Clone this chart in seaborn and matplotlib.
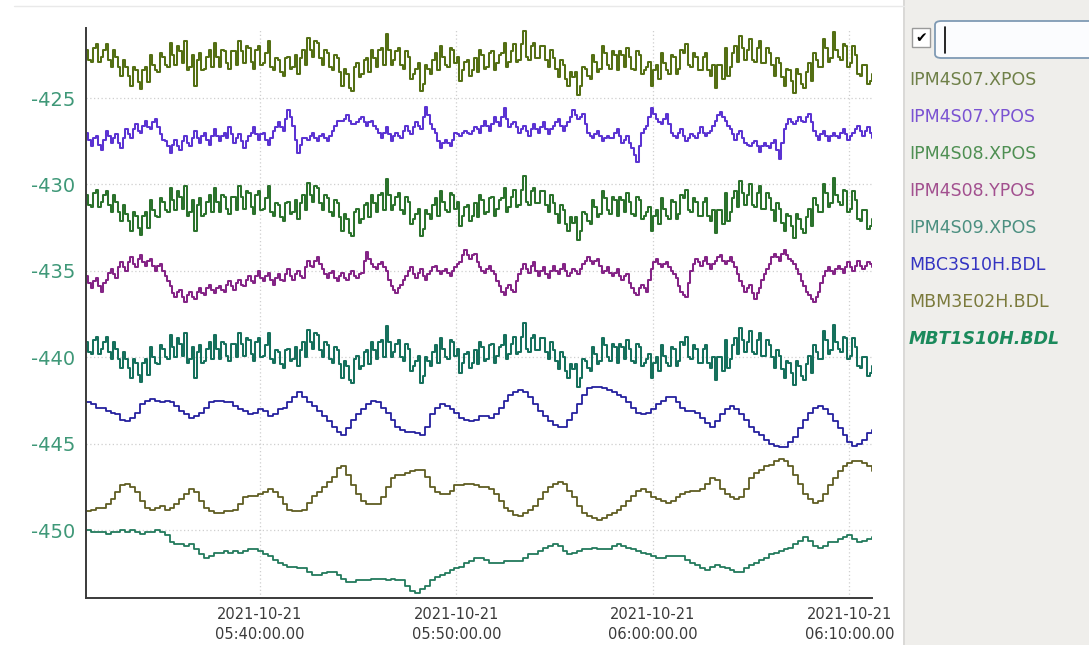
import numpy as np
import pandas as pd
import matplotlib
matplotlib.use("Agg")
import matplotlib.pyplot as plt
import matplotlib.dates as mdates
from matplotlib.patches import Rectangle, FancyBboxPatch
from matplotlib.lines import Line2D
import seaborn as sns

# ---------------- data ----------------
start_time = "2021-10-21 05:31:09"
sample_period = "15s"
n_samples = 161
half_offset = "7.5s"   # second set of samples for the fast (noisy) IPM channels

signals = ["IPM4S07.XPOS", "IPM4S07.YPOS", "IPM4S08.XPOS", "IPM4S08.YPOS",
           "IPM4S09.XPOS", "MBC3S10H.BDL", "MBM3E02H.BDL", "MBT1S10H.BDL"]
fast_signals = signals[:5]

ipm4s07_xpos = [
    -422.2, -422.9, -421.9, -422.6, -421.9, -423.2, -422.6, -423.7, -423.2, -424.3,
    -423.4, -424.5, -423.2, -422.5, -423.4, -422.4, -423.1, -421.8, -423.1, -422.3,
    -421.7, -423.2, -424.3, -422.4, -423.3, -422.2, -421.8, -423.2, -422.3, -423.3,
    -422.3, -421.7, -423.0, -422.1, -423.3, -422.0, -423.0, -421.7, -423.4, -422.8,
    -423.7, -422.6, -423.2, -423.6, -422.2, -421.5, -422.6, -421.8, -423.1, -422.4,
    -423.4, -422.7, -424.3, -423.6, -424.6, -423.0, -423.6, -422.7, -422.2, -423.2,
    -422.1, -421.3, -423.1, -422.3, -423.1, -422.3, -423.9, -423.3, -424.6, -423.1,
    -423.6, -422.4, -422.0, -423.1, -422.1, -423.0, -424.0, -422.9, -423.7, -422.7,
    -422.2, -423.3, -422.4, -423.4, -422.5, -421.8, -422.9, -421.9, -422.8, -421.1,
    -422.8, -421.8, -422.7, -422.0, -423.2, -422.7, -423.8, -423.1, -424.3, -423.8,
    -424.8, -423.2, -423.7, -422.5, -423.5, -422.0, -423.1, -422.3, -423.4, -422.5,
    -422.1, -423.3, -422.3, -423.6, -423.2, -424.3, -423.1, -422.4, -423.4, -422.5,
    -423.6, -422.2, -421.9, -423.2, -422.6, -423.4, -422.4, -423.7, -424.4, -423.1,
    -422.1, -423.2, -422.0, -421.4, -422.8, -421.6, -422.9, -421.7, -423.0, -422.4,
    -423.7, -423.0, -424.3, -423.4, -424.7, -423.6, -424.4, -423.0, -422.4, -423.2,
    -421.6, -422.9, -421.2, -422.6, -421.9, -423.2, -422.0, -423.6, -423.1, -424.2,
    -423.6]
ipm4s07_xpos_mid = [
    -422.8, -422.1, -422.9, -422.2, -422.8, -422.2, -423.2, -422.8, -423.7, -423.2,
    -424.1, -423.4, -424.1, -423.1, -423.5, -422.6, -423.2, -422.5, -422.0, -423.0,
    -423.4, -422.5, -422.8, -423.4, -422.6, -423.2, -422.6, -422.2, -423.0, -422.3,
    -423.1, -422.3, -422.0, -422.9, -422.2, -423.1, -422.4, -423.2, -422.7, -423.5,
    -422.7, -423.3, -422.5, -422.7, -423.1, -422.2, -421.7, -422.7, -422.2, -423.2,
    -422.5, -423.5, -423.3, -424.4, -423.2, -423.8, -422.8, -423.5, -422.7, -422.2,
    -423.1, -422.2, -422.8, -422.1, -423.3, -422.6, -423.6, -423.0, -424.2, -423.3,
    -422.8, -423.4, -422.6, -423.2, -422.2, -422.6, -423.4, -422.8, -423.4, -423.5,
    -422.5, -423.2, -422.3, -423.0, -422.4, -423.2, -422.3, -422.9, -421.9, -422.6,
    -422.0, -422.7, -422.0, -422.8, -422.2, -423.3, -422.8, -423.9, -423.5, -423.5,
    -424.3, -423.3, -423.9, -422.9, -423.3, -422.4, -423.3, -422.5, -422.3, -423.2,
    -422.6, -423.4, -422.5, -423.4, -422.9, -423.4, -423.9, -423.0, -423.6, -422.6,
    -423.3, -422.4, -423.1, -422.4, -423.4, -422.6, -423.4, -423.1, -423.1, -423.9,
    -423.7, -422.4, -422.9, -422.1, -422.2, -422.8, -422.1, -423.0, -422.1, -423.1,
    -422.7, -423.8, -423.3, -424.0, -423.3, -424.2, -423.5, -424.0, -422.8, -423.2,
    -422.1, -422.7, -422.2, -422.8, -422.0, -423.0, -422.5, -423.7, -423.1, -424.0]

ipm4s07_ypos = [
    -427.0, -427.8, -427.2, -428.0, -426.9, -427.6, -427.1, -427.9, -426.8, -427.3,
    -426.5, -427.0, -426.3, -426.8, -426.2, -427.1, -427.5, -428.2, -427.4, -428.0,
    -427.2, -427.8, -426.9, -427.6, -427.0, -427.7, -426.8, -427.5, -427.0, -426.7,
    -427.6, -427.1, -427.9, -427.2, -426.7, -427.4, -427.0, -427.7, -426.9, -426.4,
    -426.9, -425.7, -426.6, -428.2, -427.3, -427.4, -427.0, -427.5, -427.1, -427.5,
    -426.9, -426.3, -426.3, -426.0, -426.5, -426.4, -426.1, -426.6, -426.3, -426.8,
    -427.3, -426.7, -427.5, -427.0, -427.3, -426.6, -427.1, -426.4, -426.8, -425.5,
    -426.5, -427.0, -427.9, -427.4, -427.8, -427.0, -427.2, -426.9, -427.1, -426.7,
    -427.0, -426.3, -426.9, -426.1, -426.6, -425.6, -426.7, -426.4, -427.0, -426.6,
    -427.2, -426.5, -427.0, -426.4, -427.1, -426.6, -426.2, -426.9, -426.4, -425.7,
    -426.2, -425.9, -427.0, -427.3, -426.9, -427.5, -427.2, -427.3, -426.8, -427.6,
    -427.2, -427.9, -428.7, -427.0, -426.6, -425.6, -426.2, -426.5, -425.9, -427.0,
    -427.3, -426.8, -427.5, -427.1, -427.3, -426.7, -427.2, -426.9, -426.3, -425.8,
    -426.3, -426.8, -427.4, -426.9, -427.6, -427.8, -427.5, -428.1, -427.6, -427.9,
    -427.4, -428.5, -426.8, -426.2, -426.5, -426.1, -426.4, -425.9, -426.9, -427.4,
    -426.9, -427.5, -427.0, -427.3, -426.8, -427.4, -427.0, -426.6, -427.2, -426.7,
    -427.3]
ipm4s07_ypos_mid = [
    -427.4, -427.3, -427.7, -427.4, -427.2, -427.3, -427.6, -427.3, -427.1, -426.8,
    -426.9, -426.6, -426.7, -426.4, -426.7, -427.4, -427.8, -427.7, -427.8, -427.5,
    -427.6, -427.3, -427.3, -427.2, -427.4, -427.2, -427.2, -427.2, -427.3, -427.1,
    -427.3, -427.5, -427.5, -427.0, -427.1, -427.1, -427.4, -427.3, -426.7, -426.7,
    -426.2, -426.1, -427.4, -427.7, -427.3, -427.2, -427.3, -427.2, -427.3, -427.2,
    -426.6, -426.3, -426.2, -426.3, -426.5, -426.2, -426.4, -426.4, -426.6, -427.0,
    -427.0, -427.1, -427.2, -427.2, -426.9, -426.9, -426.7, -426.6, -426.1, -426.0,
    -426.8, -427.5, -427.6, -427.6, -427.4, -427.1, -427.0, -427.0, -426.9, -426.8,
    -426.6, -426.6, -426.5, -426.4, -426.1, -426.2, -426.5, -426.7, -426.8, -426.9,
    -426.8, -426.8, -426.7, -426.8, -426.8, -426.4, -426.6, -426.6, -426.1, -426.0,
    -426.1, -426.5, -427.2, -427.1, -427.2, -427.3, -427.3, -427.0, -427.2, -427.4,
    -427.6, -428.3, -427.8, -426.8, -426.1, -425.9, -426.4, -426.2, -426.5, -427.2,
    -427.0, -427.2, -427.3, -427.2, -427.0, -427.0, -427.0, -426.6, -426.0, -426.1,
    -426.6, -427.1, -427.1, -427.3, -427.7, -427.6, -427.8, -427.8, -427.8, -427.6,
    -428.0, -427.6, -426.5, -426.4, -426.3, -426.3, -426.1, -426.4, -427.2, -427.1,
    -427.2, -427.2, -427.2, -427.0, -427.1, -427.2, -426.8, -426.9, -426.9, -427.0]

ipm4s08_xpos = [
    -430.6, -431.3, -430.3, -431.0, -430.4, -431.6, -431.0, -432.1, -431.7, -432.7,
    -431.8, -432.9, -431.6, -430.9, -431.8, -430.8, -431.5, -430.2, -431.5, -430.7,
    -430.1, -431.6, -432.7, -430.8, -431.7, -430.6, -430.2, -431.6, -430.7, -431.7,
    -430.7, -430.1, -431.4, -430.5, -431.7, -430.4, -431.4, -430.1, -431.8, -431.2,
    -432.1, -431.0, -431.6, -432.0, -430.6, -429.9, -431.0, -430.2, -431.5, -430.8,
    -431.8, -431.1, -432.7, -432.0, -433.0, -431.4, -432.0, -431.1, -430.6, -431.6,
    -430.5, -429.7, -431.5, -430.7, -431.5, -430.7, -432.3, -431.7, -433.0, -431.5,
    -432.0, -430.8, -430.4, -431.5, -430.5, -431.4, -432.4, -431.3, -432.1, -431.1,
    -430.6, -431.7, -430.8, -431.8, -430.9, -430.2, -431.3, -430.3, -431.2, -429.5,
    -431.2, -430.2, -431.1, -430.4, -431.6, -431.1, -432.2, -431.5, -432.7, -432.2,
    -433.2, -431.6, -432.1, -430.9, -431.9, -430.4, -431.5, -430.7, -431.8, -430.9,
    -430.5, -431.7, -430.7, -432.0, -431.6, -432.7, -431.5, -430.8, -431.8, -430.9,
    -432.0, -430.6, -430.3, -431.6, -431.0, -431.8, -430.8, -432.1, -432.8, -431.5,
    -430.5, -431.6, -430.4, -429.8, -431.2, -430.0, -431.3, -430.1, -431.4, -430.8,
    -432.1, -431.4, -432.7, -431.8, -433.1, -432.0, -432.8, -431.4, -430.8, -431.6,
    -430.0, -431.3, -429.6, -431.0, -430.3, -431.6, -430.4, -432.0, -431.5, -432.6,
    -432.0]
ipm4s08_xpos_mid = [
    -431.2, -430.5, -431.3, -430.6, -431.2, -430.6, -431.6, -431.2, -432.1, -431.6,
    -432.5, -431.8, -432.5, -431.5, -431.9, -431.0, -431.6, -430.9, -430.4, -431.4,
    -431.8, -430.9, -431.2, -431.8, -431.0, -431.6, -431.0, -430.6, -431.4, -430.7,
    -431.5, -430.7, -430.4, -431.3, -430.6, -431.5, -430.8, -431.6, -431.1, -431.9,
    -431.1, -431.7, -430.9, -431.1, -431.5, -430.6, -430.1, -431.1, -430.6, -431.6,
    -430.9, -431.9, -431.7, -432.8, -431.6, -432.2, -431.2, -431.9, -431.1, -430.6,
    -431.5, -430.6, -431.2, -430.5, -431.7, -431.0, -432.0, -431.4, -432.6, -431.7,
    -431.2, -431.8, -431.0, -431.6, -430.6, -431.0, -431.8, -431.2, -431.8, -431.9,
    -430.9, -431.6, -430.7, -431.4, -430.8, -431.6, -430.7, -431.3, -430.3, -431.0,
    -430.4, -431.1, -430.4, -431.2, -430.6, -431.7, -431.2, -432.3, -431.9, -431.9,
    -432.7, -431.7, -432.3, -431.3, -431.7, -430.8, -431.7, -430.9, -430.7, -431.6,
    -431.0, -431.8, -430.9, -431.8, -431.3, -431.8, -432.3, -431.4, -432.0, -431.0,
    -431.7, -430.8, -431.5, -430.8, -431.8, -431.0, -431.8, -431.5, -431.5, -432.3,
    -432.1, -430.8, -431.3, -430.5, -430.6, -431.2, -430.5, -431.4, -430.5, -431.5,
    -431.1, -432.2, -431.7, -432.4, -431.7, -432.6, -431.9, -432.4, -431.2, -431.6,
    -430.5, -431.1, -430.6, -431.2, -430.4, -431.4, -430.9, -432.1, -431.5, -432.4]

ipm4s08_ypos = [
    -435.3, -436.0, -435.4, -436.2, -435.5, -434.9, -435.4, -434.5, -435.0, -434.2,
    -434.8, -434.1, -434.7, -434.3, -435.0, -434.6, -435.3, -435.9, -436.5, -436.1,
    -436.8, -436.2, -436.6, -436.0, -436.4, -435.8, -436.3, -435.9, -436.2, -435.6,
    -436.1, -435.5, -435.9, -435.3, -435.7, -435.0, -435.6, -435.1, -435.8, -435.2,
    -435.6, -434.9, -435.5, -435.0, -435.4, -434.4, -434.8, -434.2, -434.9, -435.4,
    -435.0, -435.6, -435.1, -435.5, -435.0, -435.4, -435.1, -433.9, -434.6, -434.9,
    -434.5, -435.0, -435.9, -436.3, -435.8, -435.3, -434.8, -435.4, -434.9, -435.5,
    -435.0, -434.7, -435.2, -434.9, -435.3, -434.8, -434.5, -433.8, -434.3, -434.0,
    -434.8, -435.1, -434.7, -435.2, -435.9, -436.4, -435.8, -436.2, -435.2, -434.6,
    -435.1, -434.5, -435.3, -434.8, -435.4, -434.7, -435.2, -434.6, -435.3, -434.9,
    -435.2, -434.6, -434.2, -434.6, -434.3, -435.1, -434.8, -435.3, -434.9, -435.5,
    -435.2, -436.0, -436.4, -435.8, -436.2, -434.9, -434.3, -434.8, -434.5, -435.0,
    -435.4, -436.2, -436.5, -435.0, -434.3, -434.7, -434.2, -434.9, -434.4, -434.1,
    -434.6, -434.2, -434.8, -435.6, -436.2, -435.8, -436.6, -436.0, -435.2, -434.6,
    -434.0, -434.4, -433.8, -434.3, -434.6, -435.2, -435.9, -436.4, -436.8, -436.2,
    -435.3, -434.8, -435.2, -434.7, -435.1, -434.5, -435.0, -434.4, -434.9, -434.5,
    -434.8]
ipm4s08_ypos_mid = [
    -435.7, -435.6, -435.9, -435.7, -435.1, -435.2, -434.8, -434.8, -434.5, -434.6,
    -434.3, -434.5, -434.4, -434.7, -434.7, -435.0, -435.6, -436.3, -436.2, -436.5,
    -436.4, -436.5, -436.2, -436.3, -436.0, -436.1, -436.0, -436.1, -435.8, -435.9,
    -435.7, -435.8, -435.5, -435.6, -435.3, -435.4, -435.3, -435.5, -435.4, -435.5,
    -435.2, -435.3, -435.2, -435.3, -434.8, -434.7, -434.4, -434.6, -435.2, -435.1,
    -435.4, -435.3, -435.4, -435.2, -435.3, -435.2, -434.4, -434.3, -434.8, -434.6,
    -434.8, -435.5, -436.1, -436.0, -435.5, -435.0, -435.2, -435.1, -435.3, -435.2,
    -434.8, -435.0, -435.0, -435.1, -435.0, -434.6, -434.1, -434.1, -434.1, -434.5,
    -435.0, -434.9, -435.0, -435.6, -436.2, -436.0, -436.1, -435.6, -434.9, -434.9,
    -434.7, -435.0, -435.0, -435.2, -435.0, -435.0, -434.9, -435.0, -435.1, -435.0,
    -434.9, -434.4, -434.4, -434.4, -434.7, -435.0, -435.1, -435.1, -435.3, -435.3,
    -435.7, -436.3, -436.0, -436.0, -435.5, -434.5, -434.6, -434.6, -434.8, -435.2,
    -435.9, -436.4, -435.7, -434.6, -434.5, -434.4, -434.6, -434.6, -434.2, -434.4,
    -434.4, -434.5, -435.2, -435.9, -436.0, -436.3, -436.3, -435.5, -434.9, -434.2,
    -434.2, -434.0, -434.1, -434.4, -434.9, -435.6, -436.2, -436.6, -436.5, -435.7,
    -435.0, -435.0, -434.9, -434.9, -434.8, -434.8, -434.7, -434.7, -434.7, -434.6]

ipm4s09_xpos = [
    -439.1, -439.8, -438.8, -439.5, -438.8, -440.1, -439.5, -440.6, -440.1, -441.2,
    -440.3, -441.4, -440.1, -439.4, -440.3, -439.3, -440.0, -438.7, -440.0, -439.2,
    -438.6, -440.1, -441.2, -439.3, -440.2, -439.1, -438.7, -440.1, -439.2, -440.2,
    -439.2, -438.6, -439.9, -439.0, -440.2, -438.9, -439.9, -438.6, -440.3, -439.7,
    -440.6, -439.5, -440.1, -440.5, -439.1, -438.4, -439.5, -438.7, -440.0, -439.3,
    -440.3, -439.6, -441.2, -440.5, -441.5, -439.9, -440.5, -439.6, -439.1, -440.1,
    -439.0, -438.2, -440.0, -439.2, -440.0, -439.2, -440.8, -440.2, -441.5, -440.0,
    -440.5, -439.3, -438.9, -440.0, -439.0, -439.9, -440.9, -439.8, -440.6, -439.6,
    -439.1, -440.2, -439.3, -440.3, -439.4, -438.7, -439.8, -438.8, -439.7, -438.0,
    -439.7, -438.7, -439.6, -438.9, -440.1, -439.6, -440.7, -440.0, -441.2, -440.7,
    -441.7, -440.1, -440.6, -439.4, -440.4, -438.9, -440.0, -439.2, -440.3, -439.4,
    -439.0, -440.2, -439.2, -440.5, -440.1, -441.2, -440.0, -439.3, -440.3, -439.4,
    -440.5, -439.1, -438.8, -440.1, -439.5, -440.3, -439.3, -440.6, -441.3, -440.0,
    -439.0, -440.1, -438.9, -438.3, -439.7, -438.5, -439.8, -438.6, -439.9, -439.3,
    -440.6, -439.9, -441.2, -440.3, -441.6, -440.5, -441.3, -439.9, -439.3, -440.1,
    -438.5, -439.8, -438.1, -439.5, -438.8, -440.1, -438.9, -440.5, -440.0, -441.1,
    -440.5]
ipm4s09_xpos_mid = [
    -439.7, -439.0, -439.8, -439.1, -439.7, -439.1, -440.1, -439.7, -440.6, -440.1,
    -441.0, -440.3, -441.0, -440.0, -440.4, -439.5, -440.1, -439.4, -438.9, -439.9,
    -440.3, -439.4, -439.7, -440.3, -439.5, -440.1, -439.5, -439.1, -439.9, -439.2,
    -440.0, -439.2, -438.9, -439.8, -439.1, -440.0, -439.3, -440.1, -439.6, -440.4,
    -439.6, -440.2, -439.4, -439.6, -440.0, -439.1, -438.6, -439.6, -439.1, -440.1,
    -439.4, -440.4, -440.2, -441.3, -440.1, -440.7, -439.7, -440.4, -439.6, -439.1,
    -440.0, -439.1, -439.7, -439.0, -440.2, -439.5, -440.5, -439.9, -441.1, -440.2,
    -439.7, -440.3, -439.5, -440.1, -439.1, -439.5, -440.3, -439.7, -440.3, -440.4,
    -439.4, -440.1, -439.2, -439.9, -439.3, -440.1, -439.2, -439.8, -438.8, -439.5,
    -438.9, -439.6, -438.9, -439.7, -439.1, -440.2, -439.7, -440.8, -440.4, -440.4,
    -441.2, -440.2, -440.8, -439.8, -440.2, -439.3, -440.2, -439.4, -439.2, -440.1,
    -439.5, -440.3, -439.4, -440.3, -439.8, -440.3, -440.8, -439.9, -440.5, -439.5,
    -440.2, -439.3, -440.0, -439.3, -440.3, -439.5, -440.3, -440.0, -440.0, -440.8,
    -440.6, -439.3, -439.8, -439.0, -439.1, -439.7, -439.0, -439.9, -439.0, -440.0,
    -439.6, -440.7, -440.2, -440.9, -440.2, -441.1, -440.4, -440.9, -439.7, -440.1,
    -439.0, -439.6, -439.1, -439.7, -438.9, -439.9, -439.4, -440.6, -440.0, -440.9]

mbc3s10h_bdl = [
    -442.6, -442.7, -442.9, -442.9, -443.1, -443.2, -443.3, -443.6, -443.7, -443.5,
    -443.2, -442.7, -442.5, -442.4, -442.5, -442.6, -442.5, -442.6, -442.8, -443.1,
    -443.3, -443.5, -443.4, -443.2, -442.9, -442.6, -442.5, -442.5, -442.6, -442.6,
    -442.8, -443.0, -443.1, -443.3, -443.2, -443.0, -443.1, -443.4, -443.3, -443.0,
    -442.9, -442.6, -442.3, -442.0, -442.3, -442.6, -442.8, -443.1, -443.4, -443.7,
    -444.0, -444.3, -444.5, -444.1, -443.6, -443.3, -443.0, -442.7, -442.5, -442.6,
    -442.9, -443.2, -443.6, -444.0, -444.2, -444.3, -444.3, -444.4, -444.5, -444.0,
    -443.3, -442.9, -442.7, -442.8, -443.0, -443.2, -443.5, -443.6, -443.7, -443.6,
    -443.4, -443.4, -443.5, -443.3, -442.9, -442.5, -442.2, -442.0, -441.9, -442.0,
    -442.3, -442.7, -443.1, -443.4, -443.7, -443.9, -444.0, -444.0, -443.6, -443.2,
    -442.7, -442.2, -441.8, -441.7, -441.7, -441.8, -441.9, -442.0, -442.2, -442.3,
    -442.6, -442.9, -443.2, -443.3, -443.2, -443.0, -442.7, -442.5, -442.3, -442.3,
    -442.6, -442.9, -443.1, -443.1, -443.2, -443.5, -443.8, -444.0, -443.7, -443.3,
    -443.0, -442.8, -443.0, -443.3, -443.6, -444.0, -444.3, -444.5, -444.8, -445.0,
    -445.1, -445.2, -445.2, -444.9, -444.6, -444.1, -443.6, -443.2, -442.9, -442.8,
    -443.0, -443.3, -443.7, -444.1, -444.5, -444.9, -445.1, -445.0, -444.8, -444.4,
    -444.2]

mbm3e02h_bdl = [
    -448.9, -448.8, -448.7, -448.7, -448.5, -448.2, -447.8, -447.4, -447.3, -447.5,
    -447.8, -448.3, -448.7, -448.8, -448.7, -448.6, -448.8, -448.7, -448.5, -448.2,
    -447.9, -447.6, -447.8, -448.3, -448.7, -448.9, -449.0, -449.0, -448.9, -448.9,
    -448.8, -448.5, -448.1, -448.0, -448.0, -447.9, -447.8, -447.6, -447.8, -448.1,
    -448.5, -448.8, -448.9, -448.9, -448.8, -448.4, -448.0, -447.8, -447.5, -447.2,
    -446.9, -446.4, -446.3, -446.8, -447.4, -447.9, -448.3, -448.5, -448.5, -448.5,
    -448.1, -447.5, -447.0, -446.8, -446.8, -446.7, -446.6, -446.5, -446.5, -446.9,
    -447.5, -447.8, -447.9, -447.9, -447.7, -447.4, -447.4, -447.3, -447.3, -447.4,
    -447.5, -447.5, -447.6, -447.9, -448.3, -448.7, -448.9, -449.1, -449.2, -449.0,
    -448.8, -448.6, -448.2, -447.8, -447.5, -447.3, -447.2, -447.3, -447.7, -448.1,
    -448.6, -449.0, -449.2, -449.3, -449.4, -449.3, -449.1, -449.0, -448.8, -448.6,
    -448.3, -448.0, -447.7, -447.6, -447.8, -448.1, -448.2, -448.3, -448.4, -448.3,
    -448.1, -447.9, -447.8, -447.7, -447.7, -447.6, -447.3, -447.0, -447.1, -447.6,
    -447.9, -448.1, -448.2, -448.1, -447.6, -447.0, -446.7, -446.5, -446.3, -446.2,
    -446.0, -445.9, -446.0, -446.3, -446.8, -447.3, -447.9, -448.2, -448.4, -448.3,
    -447.9, -447.4, -447.0, -446.6, -446.3, -446.1, -446.0, -446.0, -446.1, -446.3,
    -446.6]

mbt1s10h_bdl = [
    -450.0, -450.1, -450.1, -450.1, -450.2, -450.1, -450.1, -450.0, -450.1, -450.0,
    -450.1, -450.2, -450.1, -450.1, -450.0, -450.1, -450.3, -450.7, -450.8, -450.8,
    -450.9, -450.8, -451.1, -451.4, -451.6, -451.5, -451.3, -451.3, -451.2, -451.3,
    -451.2, -451.3, -451.2, -451.1, -451.1, -451.2, -451.4, -451.5, -451.7, -451.9,
    -452.0, -452.1, -452.1, -452.2, -452.2, -452.4, -452.6, -452.6, -452.5, -452.4,
    -452.4, -452.6, -452.8, -453.0, -453.0, -452.9, -452.9, -452.9, -452.8, -452.8,
    -452.8, -452.9, -452.8, -452.9, -452.9, -453.2, -453.5, -453.6, -453.4, -453.2,
    -452.9, -452.7, -452.6, -452.5, -452.3, -452.2, -452.1, -451.9, -451.8, -451.6,
    -451.6, -451.7, -451.9, -451.9, -451.9, -451.8, -451.8, -451.8, -451.8, -451.6,
    -451.4, -451.4, -451.2, -451.0, -450.9, -450.8, -450.9, -451.2, -451.4, -451.3,
    -451.2, -451.1, -451.1, -451.0, -451.1, -451.1, -451.1, -450.9, -450.8, -450.9,
    -451.0, -451.1, -451.2, -451.3, -451.4, -451.5, -451.6, -451.6, -451.5, -451.5,
    -451.5, -451.5, -451.7, -451.9, -452.0, -452.2, -452.3, -452.1, -452.0, -452.1,
    -452.2, -452.3, -452.4, -452.4, -452.2, -452.0, -451.9, -451.7, -451.6, -451.4,
    -451.3, -451.2, -451.1, -451.0, -450.8, -450.6, -450.4, -450.6, -450.9, -451.0,
    -450.9, -450.7, -450.7, -450.5, -450.4, -450.3, -450.5, -450.7, -450.6, -450.5,
    -450.4]

line_colors = ["#546f14", "#5b33d2", "#2b722c", "#842486",
               "#16705c", "#24209e", "#5f5d22", "#227a5c"]
label_colors = ["#6f8048", "#7a52d2", "#4e8f52", "#a2508f",
                "#4b8f80", "#3434c2", "#7b7a3c", "#1b8a5c"]

y_ticks = [-450, -445, -440, -435, -430, -425]

# ---------------- build table ----------------
times = pd.date_range(start_time, periods=n_samples, freq=sample_period)
times_mid = pd.date_range(pd.Timestamp(start_time) + pd.Timedelta(half_offset),
                          periods=n_samples - 1, freq=sample_period)

main_sets = [ipm4s07_xpos, ipm4s07_ypos, ipm4s08_xpos, ipm4s08_ypos,
             ipm4s09_xpos, mbc3s10h_bdl, mbm3e02h_bdl, mbt1s10h_bdl]
mid_sets = [ipm4s07_xpos_mid, ipm4s07_ypos_mid, ipm4s08_xpos_mid, ipm4s08_ypos_mid,
            ipm4s09_xpos_mid, None, None, None]

frames = []
for name, vals, mids in zip(signals, main_sets, mid_sets):
    frames.append(pd.DataFrame({"time": times, "value": vals, "signal": name}))
    if mids is not None:
        frames.append(pd.DataFrame({"time": times_mid, "value": mids, "signal": name}))
df = pd.concat(frames, ignore_index=True).sort_values(["signal", "time"])
palette = dict(zip(signals, line_colors))

# ---------------- figure ----------------
sns.set_style("white")
plt.rcParams["font.family"] = ["DejaVu Sans"]

W, H = 1089, 645
fig = plt.figure(figsize=(W / 100, H / 100), dpi=100, facecolor="white")

# right-hand panel
fig.patches.append(Rectangle((905 / W, 0), (W - 905) / W, 1, transform=fig.transFigure,
                             facecolor="#efeeeb", edgecolor="none", zorder=0))
fig.lines.append(Line2D([904 / W, 904 / W], [0, 1], transform=fig.transFigure,
                        color="#d3d2cf", lw=1.2))
fig.lines.append(Line2D([14 / W, 904 / W], [1 - 6 / H, 1 - 6 / H], transform=fig.transFigure,
                        color="#e9e9e9", lw=1.0))

ax = fig.add_axes([86 / W, 1 - 597.7 / H, (872 - 86) / W, (597.7 - 28) / H])
ax.set_facecolor("white")

fast = df[df["signal"].isin(fast_signals)]
slow = df[~df["signal"].isin(fast_signals)]
sns.lineplot(data=fast, x="time", y="value", hue="signal", hue_order=fast_signals,
             palette=palette, estimator=None, drawstyle="steps-post",
             linewidth=1.45, legend=False, ax=ax)
sns.lineplot(data=slow, x="time", y="value", hue="signal", hue_order=signals[5:],
             palette=palette, estimator=None, drawstyle="steps-post",
             linewidth=1.3, legend=False, ax=ax)

ax.set_xlim(times[0], times[-1])
ax.set_ylim(-453.9, -420.95)
ax.set_xlabel("")
ax.set_ylabel("")

ax.set_yticks(y_ticks)
ax.set_yticklabels([str(t) for t in y_ticks])
ax.yaxis.set_minor_locator(matplotlib.ticker.MultipleLocator(1))
ax.xaxis.set_major_locator(mdates.MinuteLocator(byminute=range(0, 60, 10)))
ax.xaxis.set_minor_locator(mdates.MinuteLocator(byminute=range(5, 60, 10)))
ax.xaxis.set_major_formatter(mdates.DateFormatter("%Y-%m-%d\n%H:%M:%S.00"))

ax.grid(True, which="major", color="#cfcfcf", linestyle=(0, (1, 2)), linewidth=0.9)
for s in ["top", "right"]:
    ax.spines[s].set_visible(False)
for s in ["left", "bottom"]:
    ax.spines[s].set_color("#3a3a3a")
    ax.spines[s].set_linewidth(1.4)

ax.tick_params(axis="both", which="major", direction="in", length=8, width=1.1, color="#3a3a3a")
ax.tick_params(axis="both", which="minor", direction="in", length=4, width=1.0, color="#3a3a3a")
ax.tick_params(axis="y", which="major", labelsize=14, labelcolor="#3f9878", pad=8)
ax.tick_params(axis="x", which="major", labelsize=10.5, labelcolor="#3a3a3a", pad=7)
for lab in ax.get_xticklabels():
    lab.set_linespacing(1.35)

# legend panel widgets
fig.patches.append(Rectangle((912 / W, 1 - 47 / H), 18 / W, 19 / H, transform=fig.transFigure,
                             facecolor="white", edgecolor="#9a9a9a", lw=1.0))
fig.text(921 / W, 1 - 38 / H, "\u2714", ha="center", va="center", fontsize=10, color="black")
fig.patches.append(FancyBboxPatch((935 / W, 1 - 58 / H), 170 / W, 37 / H,
                                  boxstyle="round,pad=0,rounding_size=0.006",
                                  transform=fig.transFigure, facecolor="#fbfcfe",
                                  edgecolor="#7f9ab4", lw=1.3))
fig.lines.append(Line2D([945 / W, 945 / W], [1 - 53 / H, 1 - 27 / H], transform=fig.transFigure,
                        color="black", lw=1.2))

label_y = [80, 117, 154, 191, 228, 265, 302, 339]
for name, col, yy in zip(signals, label_colors, label_y):
    bold = name == "MBT1S10H.BDL"
    fig.text(909 / W, 1 - yy / H, name, ha="left", va="center", fontsize=12.5,
             color=col, fontstyle="italic" if bold else "normal",
             fontweight="bold" if bold else "normal")

fig.savefig("out.png", dpi=100, facecolor="white")
